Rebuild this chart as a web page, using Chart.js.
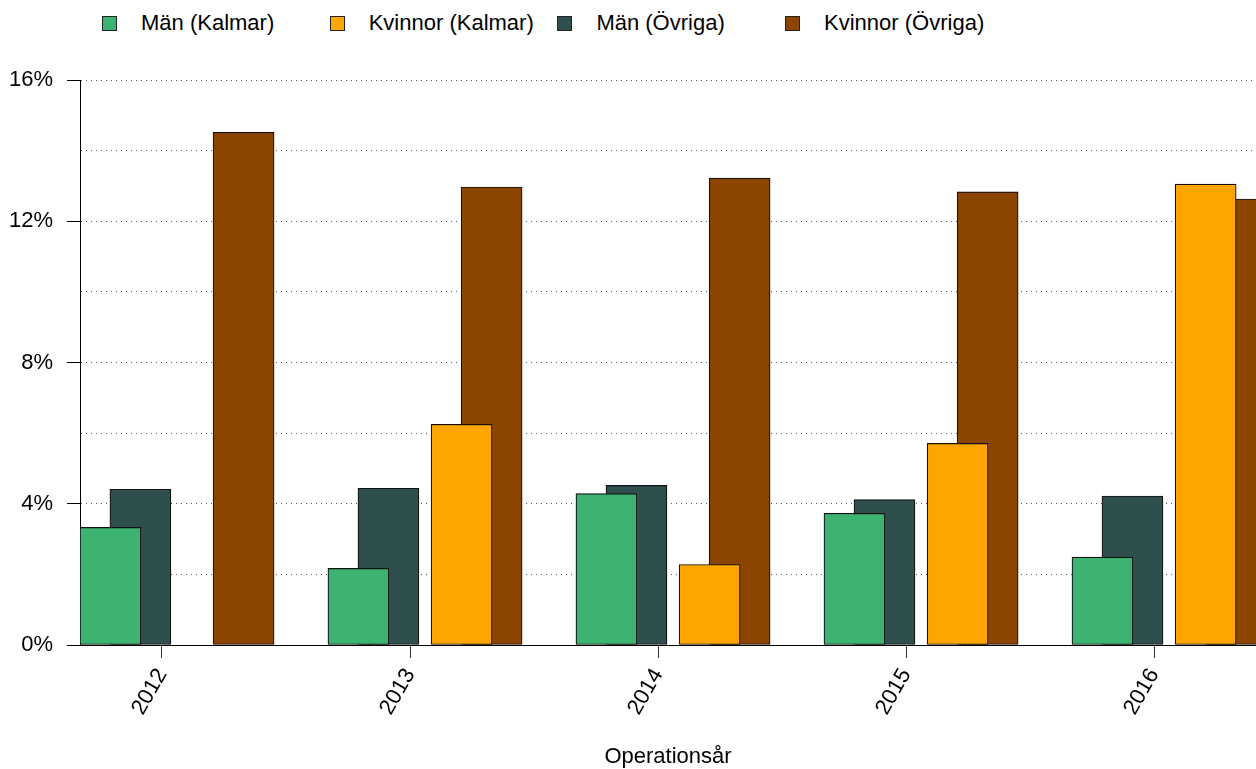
<!DOCTYPE html>
<html lang="sv">
<head>
<meta charset="utf-8">
<title>Operationsår</title>
<script src="https://cdn.jsdelivr.net/npm/chart.js@4.4.1/dist/chart.umd.min.js"></script>
<style>
    html, body { margin: 0; padding: 0; background: #fff; overflow: hidden; }
    #wrap { position: relative; width: 1256px; height: 769px; }
    #legend {
        position: absolute; left: 102px; top: 15px; display: flex;
        font-family: "Liberation Sans", Arial, sans-serif; font-size: 22px; color: #000;
    }
    #legend .item { width: 227.7px; height: 16px; display: flex; align-items: center; white-space: nowrap; }
    #legend .box { width: 15px; height: 15px; box-sizing: border-box; border: 1px solid #222; margin-right: 24px; flex: none; }
    #myChart { position: absolute; left: 0; top: 0; }
</style>
</head>
<body>
<div id="wrap">
    <div id="legend"></div>
    <canvas id="myChart" width="1256" height="769"></canvas>
</div>
<script>
// data (percent)
const years = ['2012', '2013', '2014', '2015', '2016'];
const menKalmar   = [3.33, 2.17, 4.29, 3.73, 2.49];
const womenKalmar = [0, 6.25, 2.28, 5.71, 13.05];
const menOther    = [4.41, 4.44, 4.52, 4.12, 4.22];
const womenOther  = [14.52, 12.97, 13.22, 12.83, 12.63];
const yTicks = [0, 4, 8, 12, 16];

const seriesNames  = ['Män (Kalmar)', 'Kvinnor (Kalmar)', 'Män (Övriga)', 'Kvinnor (Övriga)'];
const seriesValues = [menKalmar, womenKalmar, menOther, womenOther];
const seriesColors = ['#3CB371', '#FFA500', '#2F4F4F', '#8B4500'];
// shift of each bar from its year tick, in year units (bars overlap in pairs)
const barShift = [-0.208, 0.208, -0.087, 0.329];

const datasets = seriesNames.map((name, k) => ({
    label: name,
    data: seriesValues[k].map((v, i) => ({ x: i + barShift[k], y: v })),
    backgroundColor: seriesColors[k],
    borderColor: '#111',
    borderWidth: 1.2,
    borderSkipped: false,
    barThickness: 61,
    grouped: false
}));

// legend in html, fixed columns
const htmlLegend = {
    id: 'htmlLegend',
    afterUpdate(chart) {
        const box = document.getElementById('legend');
        box.innerHTML = '';
        chart.options.plugins.legend.labels.generateLabels(chart).forEach(item => {
            const row = document.createElement('div');
            row.className = 'item';
            const sq = document.createElement('span');
            sq.className = 'box';
            sq.style.background = item.fillStyle;
            const txt = document.createElement('span');
            txt.textContent = item.text;
            row.appendChild(sq);
            row.appendChild(txt);
            box.appendChild(row);
        });
    }
};

Chart.defaults.font.family = '"Liberation Sans", Arial, sans-serif';
Chart.defaults.font.size = 22;
Chart.defaults.color = '#000';

const ctx = document.getElementById('myChart').getContext('2d');
new Chart(ctx, {
    type: 'bar',
    data: { datasets: datasets },
    plugins: [htmlLegend],
    options: {
        responsive: false,
        animation: false,
        layout: { padding: { top: 80, left: 0, right: 0, bottom: 0 } },
        plugins: {
            legend: { display: false },
            tooltip: { enabled: false }
        },
        scales: {
            x: {
                type: 'linear',
                offset: false,
                min: -0.3306,
                max: 4.411,
                afterBuildTicks: (axis) => { axis.ticks = years.map((y, i) => ({ value: i })); },
                afterFit: (scale) => { scale.height = 124; },
                ticks: {
                    callback: (value) => years[value],
                    autoSkip: false,
                    minRotation: 60,
                    maxRotation: 60,
                    padding: 6
                },
                grid: { offset: false, drawOnChartArea: false, tickLength: 13, tickColor: '#333' },
                border: { color: '#000', width: 1 },
                title: {
                    display: true,
                    text: 'Operationsår',
                    font: { size: 22, lineHeight: 1 },
                    padding: { top: 0, bottom: 1 }
                }
            },
            y: {
                min: 0,
                max: 16,
                afterFit: (scale) => { scale.width = 80; },
                ticks: {
                    stepSize: 2,
                    padding: 14,
                    callback: (value) => yTicks.includes(value) ? value + '%' : ''
                },
                grid: {
                    color: '#555',
                    lineWidth: 1,
                    tickLength: 13,
                    tickColor: (c) => yTicks.includes(c.tick.value) ? '#000' : 'rgba(0,0,0,0)'
                },
                border: { color: '#000', width: 1, dash: [1, 4] }
            }
        }
    }
});
</script>
</body>
</html>
